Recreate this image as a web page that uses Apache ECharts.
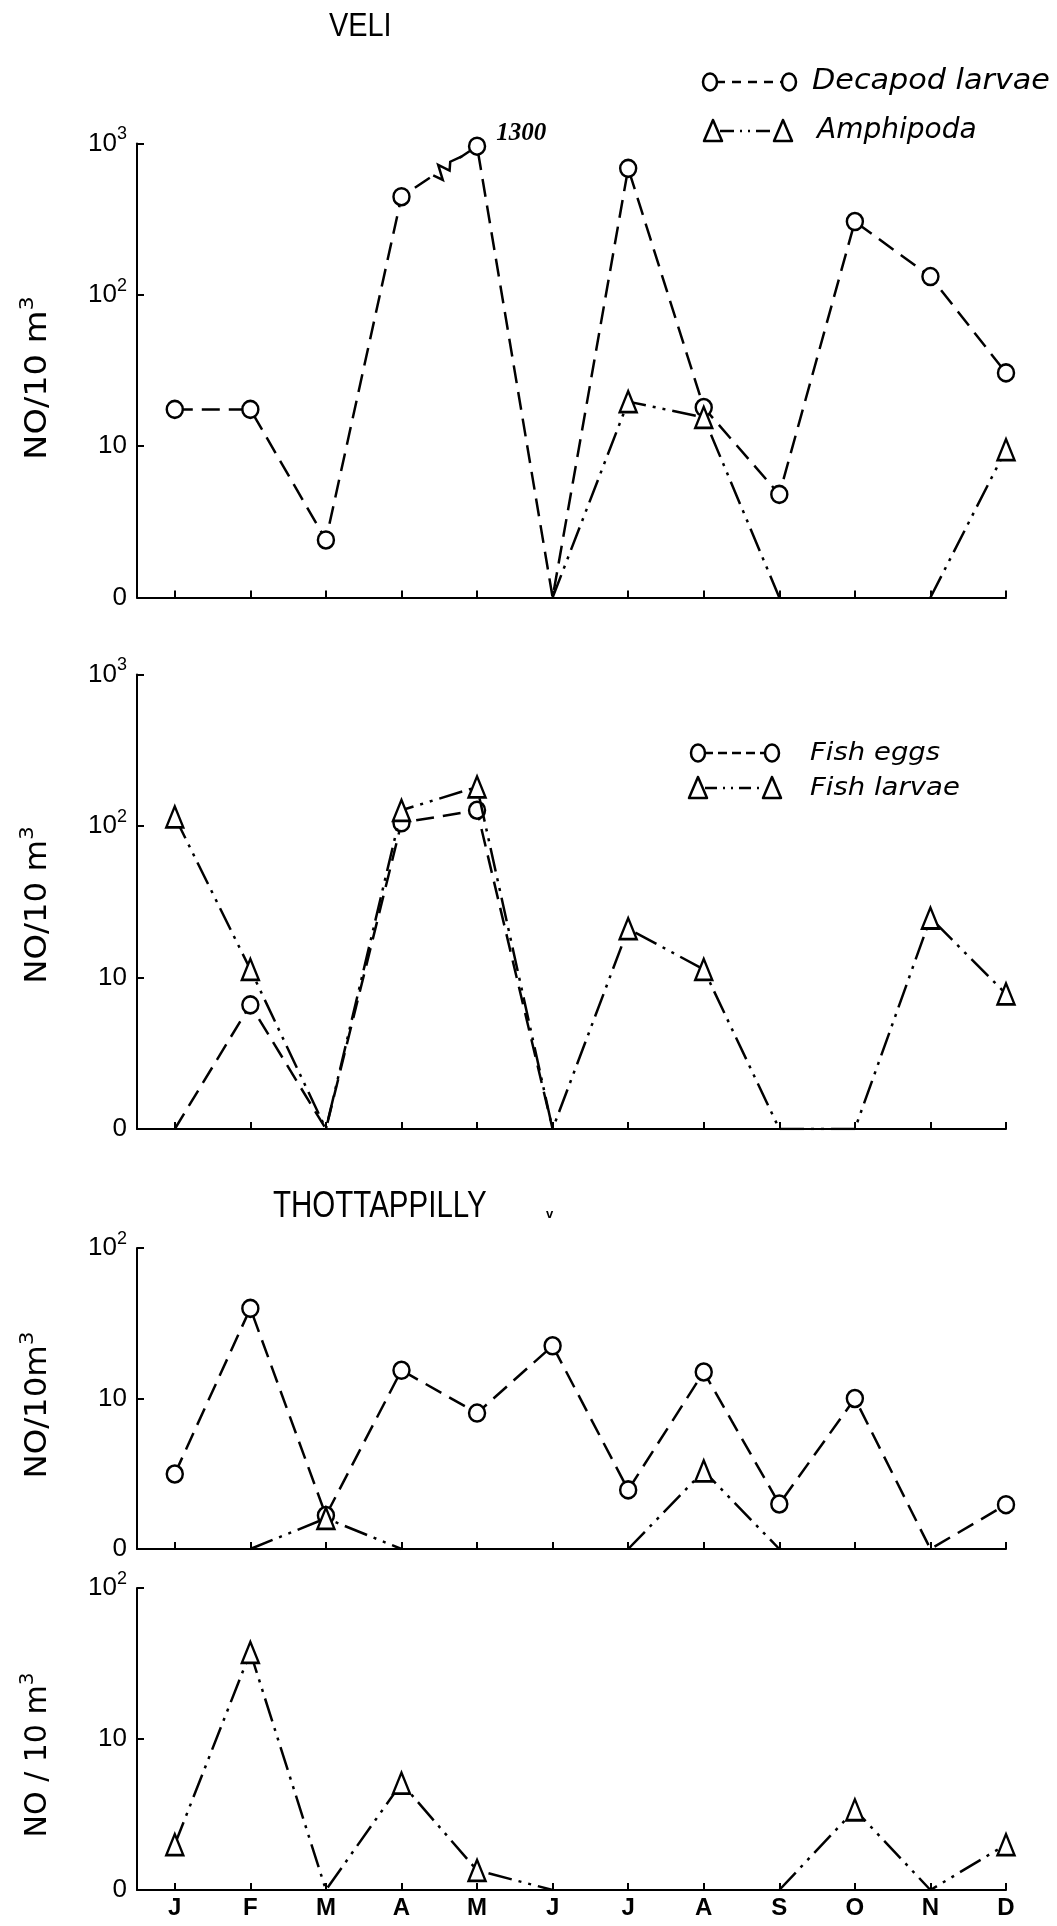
<!DOCTYPE html>
<html><head><meta charset="utf-8">
<script src="https://cdn.jsdelivr.net/npm/echarts@6/dist/echarts.min.js"></script>
<style>html,body{margin:0;padding:0;background:#fff}#c{width:1057px;height:1926px}</style>
</head><body><div id="c"></div>
<script>
// ---------- data ----------
const months = ['J','F','M','A','M','J','J','A','S','O','N','D'];
// VELI (NO/10 m3); 0 = zero catch (plotted on the "0" baseline), null = not drawn
const veliDecapod   = [17.5, 17.5, 2.4, 445, 960, 0, 685, 18, 4.8, 305, 132, 30.5];
const veliAmphipoda = [null, null, null, null, null, 0, 19.7, 15.5, 0, null, 0, 9.5];
const veliFishEggs   = [0, 6.6, 0, 105, 127, 0, null, null, null, null, null, null];
const veliFishLarvae = [115, 11.3, 0, 127, 181, 0, 21, 11.3, 0, 0, 24.7, 7.8];
const veliPeakNote = '1300';
// THOTTAPPILLY
const thotDecapod    = [3.15, 39.7, 1.67, 15.4, 8.0, 22.4, 2.47, 15.0, 1.99, 10, 0, 1.97];
const thotAmphipoda  = [null, 0, 1.6, 0, null, null, 0, 3.3, 0, null, null, null];
const thotFishLarvae = [2.0, 37.5, 0, 5.1, 1.35, 0, null, null, 0, 3.4, 0, 2.0];
// y tick labels
const yTickValues = [1, 10, 100, 1000];
const yTickBase   = ['0', '10', '10', '10'];
const yTickSup    = ['', '', '2', '3'];

// ---------- chart ----------
const chart = echarts.init(document.getElementById('c'), null, {renderer: 'canvas'});
const grids = [
  {left: 137, right: 51, top: 143.5, height: 454},
  {left: 137, right: 51, top: 674.5, height: 454.5},
  {left: 137, right: 51, top: 1248, height: 301},
  {left: 137, right: 51, top: 1588, height: 302}
];
const yMax = [1000, 1000, 100, 100];
const monthIdx = months.map((m, k) => k);

function mkX(i, showLabels) {
  return {
    type: 'value', gridIndex: i, min: -0.5, max: 11,
    axisLine: {show: true, onZero: false, lineStyle: {color: '#000', width: 2}},
    axisTick: {show: true, inside: true, length: 7, customValues: monthIdx, lineStyle: {color: '#000', width: 2}},
    axisLabel: {show: showLabels, customValues: monthIdx, formatter: v => months[Math.round(v)] || '',
      fontSize: 24, fontWeight: 'bold', color: '#000', margin: 6, fontFamily: 'Liberation Sans'},
    splitLine: {show: false}
  };
}
function mkY(i) {
  return {
    type: 'log', logBase: 10, gridIndex: i, min: 1, max: yMax[i],
    axisLine: {show: true, onZero: false, lineStyle: {color: '#000', width: 2}},
    axisTick: {show: true, inside: true, length: 7, lineStyle: {color: '#000', width: 2}},
    minorTick: {show: false}, splitLine: {show: false},
    axisLabel: {
      margin: 10, color: '#000',
      formatter: v => {
        const k = yTickValues.findIndex(t => Math.abs(t - v) < 1e-6 * t);
        if (k < 0) return '';
        return yTickSup[k] ? `{n|${yTickBase[k]}}{s|${yTickSup[k]}}` : `{n|${yTickBase[k]}}`;
      },
      rich: {
        n: {fontSize: 26, lineHeight: 26, fontFamily: 'Liberation Sans', color: '#000', verticalAlign: 'middle'},
        s: {fontSize: 18, lineHeight: 18, fontFamily: 'Liberation Sans', color: '#000', padding: [0, 0, 18, 0], verticalAlign: 'middle'}
      }
    }
  };
}
function buildData(values) {
  return values.map((v, k) => {
    if (v === null) return [k, null];
    if (v === 0) return {value: [k, 1], symbol: 'none'};
    return [k, v];
  });
}
function mkLine(name, values, g, kind) {
  const circ = kind === 'circle';
  return {
    type: 'line', name, xAxisIndex: g, yAxisIndex: g, data: buildData(values),
    symbol: circ ? 'circle' : 'triangle', symbolSize: circ ? [16, 17] : [17, 21],
    showAllSymbol: true, connectNulls: false,
    itemStyle: {color: '#fff', borderColor: '#000', borderWidth: 2.5},
    lineStyle: {color: '#000', width: 2.5, type: circ ? [18, 9] : [24, 7, 3, 7, 3, 7]},
    z: circ ? 2 : 3, animation: false, emphasis: {disabled: true}, silent: true
  };
}

const sDec = mkLine('Decapod larvae', veliDecapod, 0, 'circle');
sDec.data[4] = {value: [4, veliDecapod[4]], label: {show: true, formatter: veliPeakNote, position: 'right',
  distance: 10, offset: [0, -13], fontSize: 25, fontStyle: 'italic', fontWeight: 'bold',
  fontFamily: 'Liberation Serif', color: '#000'}};

const series = [
  sDec,
  mkLine('Amphipoda', veliAmphipoda, 0, 'triangle'),
  mkLine('Fish eggs', veliFishEggs, 1, 'circle'),
  mkLine('Fish larvae', veliFishLarvae, 1, 'triangle'),
  mkLine('Decapod larvae', thotDecapod, 2, 'circle'),
  mkLine('Amphipoda', thotAmphipoda, 2, 'triangle'),
  mkLine('Fish larvae', thotFishLarvae, 3, 'triangle')
];

function yName(id, text, y, stretch) {
  return {type: 'text', id, x: 38, y, rotation: Math.PI / 2, scaleX: stretch,
    style: {text: `{a|${text}}{b|3}`, align: 'center', verticalAlign: 'middle',
      rich: {a: {fontSize: 30, lineHeight: 30, fontFamily: 'DejaVu Sans', color: '#000', verticalAlign: 'middle'},
             b: {fontSize: 20, lineHeight: 20, fontFamily: 'DejaVu Sans', color: '#000', padding: [0, 0, 20, 0], verticalAlign: 'middle'}}}};
}
function legCircle(id, cx, cy) {
  return {type: 'ellipse', id, shape: {cx, cy, rx: 7, ry: 8.5}, style: {fill: '#fff', stroke: '#000', lineWidth: 2.5}, z: 5};
}
function legTri(id, cx, cy) {
  return {type: 'polygon', id, shape: {points: [[cx, cy - 11], [cx - 9, cy + 10], [cx + 9, cy + 10]]},
    style: {fill: '#fff', stroke: '#000', lineWidth: 2.5, lineJoin: 'round'}, z: 5};
}
function legLine(id, x1, x2, y, dash) {
  return {type: 'line', id, shape: {x1, y1: y, x2, y2: y}, style: {stroke: '#000', lineWidth: 2.5, lineDash: dash}, z: 4};
}
function legText(id, x, y, text, size, stretch) {
  return {type: 'text', id, x, y, scaleX: stretch, style: {text, font: `italic ${size}px "DejaVu Sans"`, fill: '#000', verticalAlign: 'middle'}};
}

const graphic = [
  {type: 'text', id: 'tVeli', x: 329, y: 27, scaleX: 0.85, style: {text: 'VELI', font: '34px "Liberation Sans"', fill: '#000', verticalAlign: 'middle'}},
  {type: 'text', id: 'tThot', x: 273, y: 1207, scaleX: 0.82, style: {text: 'THOTTAPPILLY', font: '36px "Liberation Sans"', fill: '#000', verticalAlign: 'middle'}},
  {type: 'text', id: 'tMark', x: 546, y: 1214, style: {text: 'v', font: 'bold 13px "Liberation Sans"', fill: '#000', verticalAlign: 'middle'}},
  yName('y1', 'NO/10 m', 378, 1.12),
  yName('y2', 'NO/10 m', 905, 1.08),
  yName('y3', 'NO/10m', 1405, 1.08),
  yName('y4', 'NO / 10 m', 1755, 1.0),
  // legend VELI top
  legLine('l1', 716, 781, 82, [9, 7]), legCircle('c1a', 710, 82), legCircle('c1b', 789, 82),
  legText('t1', 812, 82, 'Decapod larvae', 28, 1.08),
  legLine('l2', 720, 776, 131, [14, 6, 2, 6, 2, 6]), legTri('p2a', 713, 131), legTri('p2b', 783, 131),
  legText('t2', 817, 131, 'Amphipoda', 28, 1.0),
  // legend VELI fish
  legLine('l3', 704, 766, 753, [9, 5]), legCircle('c3a', 698, 753), legCircle('c3b', 772, 753),
  legText('t3', 810, 753, 'Fish eggs', 25, 1.1),
  legLine('l4', 705, 765, 788, [12, 6, 2, 6, 2, 6]), legTri('p4a', 698, 788), legTri('p4b', 772, 788),
  legText('t4', 810, 788, 'Fish larvae', 25, 1.1)
];

chart.setOption({
  backgroundColor: '#fff',
  animation: false,
  grid: grids,
  xAxis: [mkX(0, false), mkX(1, false), mkX(2, false), mkX(3, true)],
  yAxis: [mkY(0), mkY(1), mkY(2), mkY(3)],
  series,
  graphic
});

// axis-break zigzag on the A -> M segment of Decapod larvae (positioned from the data)
const pA = chart.convertToPixel({gridIndex: 0}, [3, veliDecapod[3]]);
const pM = chart.convertToPixel({gridIndex: 0}, [4, veliDecapod[4]]);
const dx = pM[0] - pA[0], dy = pM[1] - pA[1];
const len = Math.hypot(dx, dy);
const nx = dy / len, ny = -dx / len; // normal
const P = (t, w) => [pA[0] + dx * t + nx * w, pA[1] + dy * t + ny * w];
chart.setOption({graphic: [
  {type: 'polyline', id: 'zzMask', shape: {points: [P(0.40, 0), P(0.70, 0)]}, style: {stroke: '#fff', lineWidth: 5, fill: null}, z: 5},
  {type: 'polyline', id: 'zz', shape: {points: [P(0.42, 0), P(0.48, -9), P(0.53, 6), P(0.60, -5), P(0.66, 2), P(0.80, 0)]},
   style: {stroke: '#000', lineWidth: 2.5, fill: null, lineJoin: 'miter'}, z: 6}
]});
</script>
</body></html>
